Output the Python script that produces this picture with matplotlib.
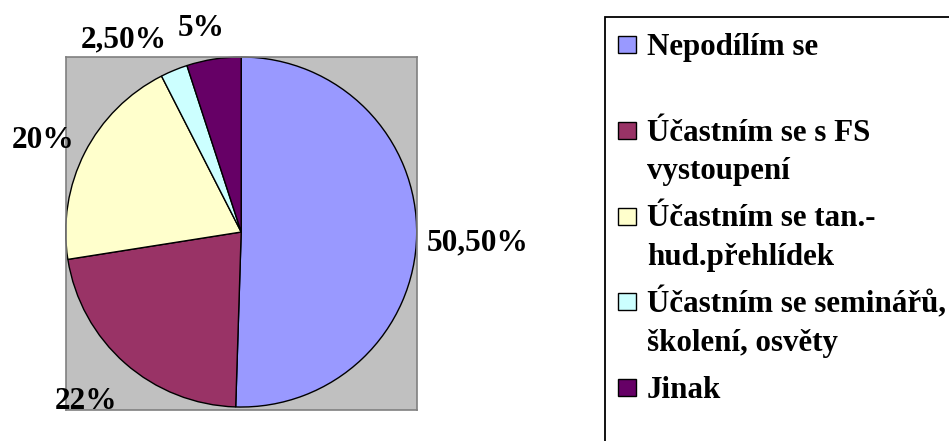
import numpy as np
import matplotlib
matplotlib.use("Agg")
import matplotlib.pyplot as plt
from matplotlib.patches import Rectangle
from matplotlib.transforms import ScaledTranslation

# data
categories = ["Nepodílím se",
              "Účastním se s FS\nvystoupení",
              "Účastním se tan.-\nhud.přehlídek",
              "Účastním se seminářů,\nškolení, osvěty",
              "Jinak"]
shares = [50.5, 22, 20, 2.5, 5]
colors = ["#9999FF", "#993366", "#FFFFCC", "#CCFFFF", "#660066"]

# label placement (radial distance, angle tweak in degrees)
lab_dist = [1.35, 1.30, 1.25, 1.30, 1.20]
lab_shift = [-1.0, -1.5, 1.5, 8.5, 2.0]

plt.rcParams['font.family'] = ['Liberation Serif', 'DejaVu Serif']
plt.rcParams['font.weight'] = 'bold'

W, H = 949, 441
fig = plt.figure(figsize=(W / 100, H / 100), dpi=100)
fig.patch.set_facecolor("white")

ax = fig.add_axes([65.7 / W, 31 / H, 351 / W, 353 / H])
ax.set_facecolor("#C0C0C0")
for s in ax.spines.values():
    s.set_edgecolor("#808080")
    s.set_linewidth(1.2)

wedges, _ = ax.pie(shares, colors=colors, startangle=90, counterclock=False,
                   radius=1.0, frame=True,
                   wedgeprops=dict(edgecolor="black", linewidth=1.0))
ax.set_xlim(-1.0, 1.0)
ax.set_ylim(-1.017, 1.0)
ax.set_aspect("auto")
ax.set_xticks([])
ax.set_yticks([])


def fmt(v):
    if float(v).is_integer():
        return "%d%%" % v
    return ("%.2f%%" % v).replace(".", ",")


down = ax.transData + ScaledTranslation(0, -3 / 100, fig.dpi_scale_trans)
for w, v, d, sh in zip(wedges, shares, lab_dist, lab_shift):
    mid = np.deg2rad((w.theta1 + w.theta2) / 2 + sh)
    ax.text(d * np.cos(mid), d * np.sin(mid), fmt(v), ha="center", va="center",
            fontsize=22.5, fontweight="bold", color="black", clip_on=False,
            transform=down)

# legend box, cut off at the right and bottom like the reference
fig.add_artist(Rectangle((605 / W, -0.1), 1.0, (H - 17) / H + 0.1,
                         transform=fig.transFigure, facecolor="none",
                         edgecolor="black", linewidth=1.3))

base0, step, line_gap = 55, 85.75, 38.5
for i, (lab, c) in enumerate(zip(categories, colors)):
    yb = base0 + step * i
    fig.add_artist(Rectangle((617.6 / W, (H - yb + 2) / H), 18 / W, 17 / H,
                             transform=fig.transFigure, facecolor=c,
                             edgecolor="black", linewidth=1.0))
    for j, line in enumerate(lab.split("\n")):
        fig.text(647 / W, (H - yb - j * line_gap) / H, line, ha="left",
                 va="baseline", fontsize=22.3, fontweight="bold", color="black")

fig.savefig("out.png", dpi=100)
